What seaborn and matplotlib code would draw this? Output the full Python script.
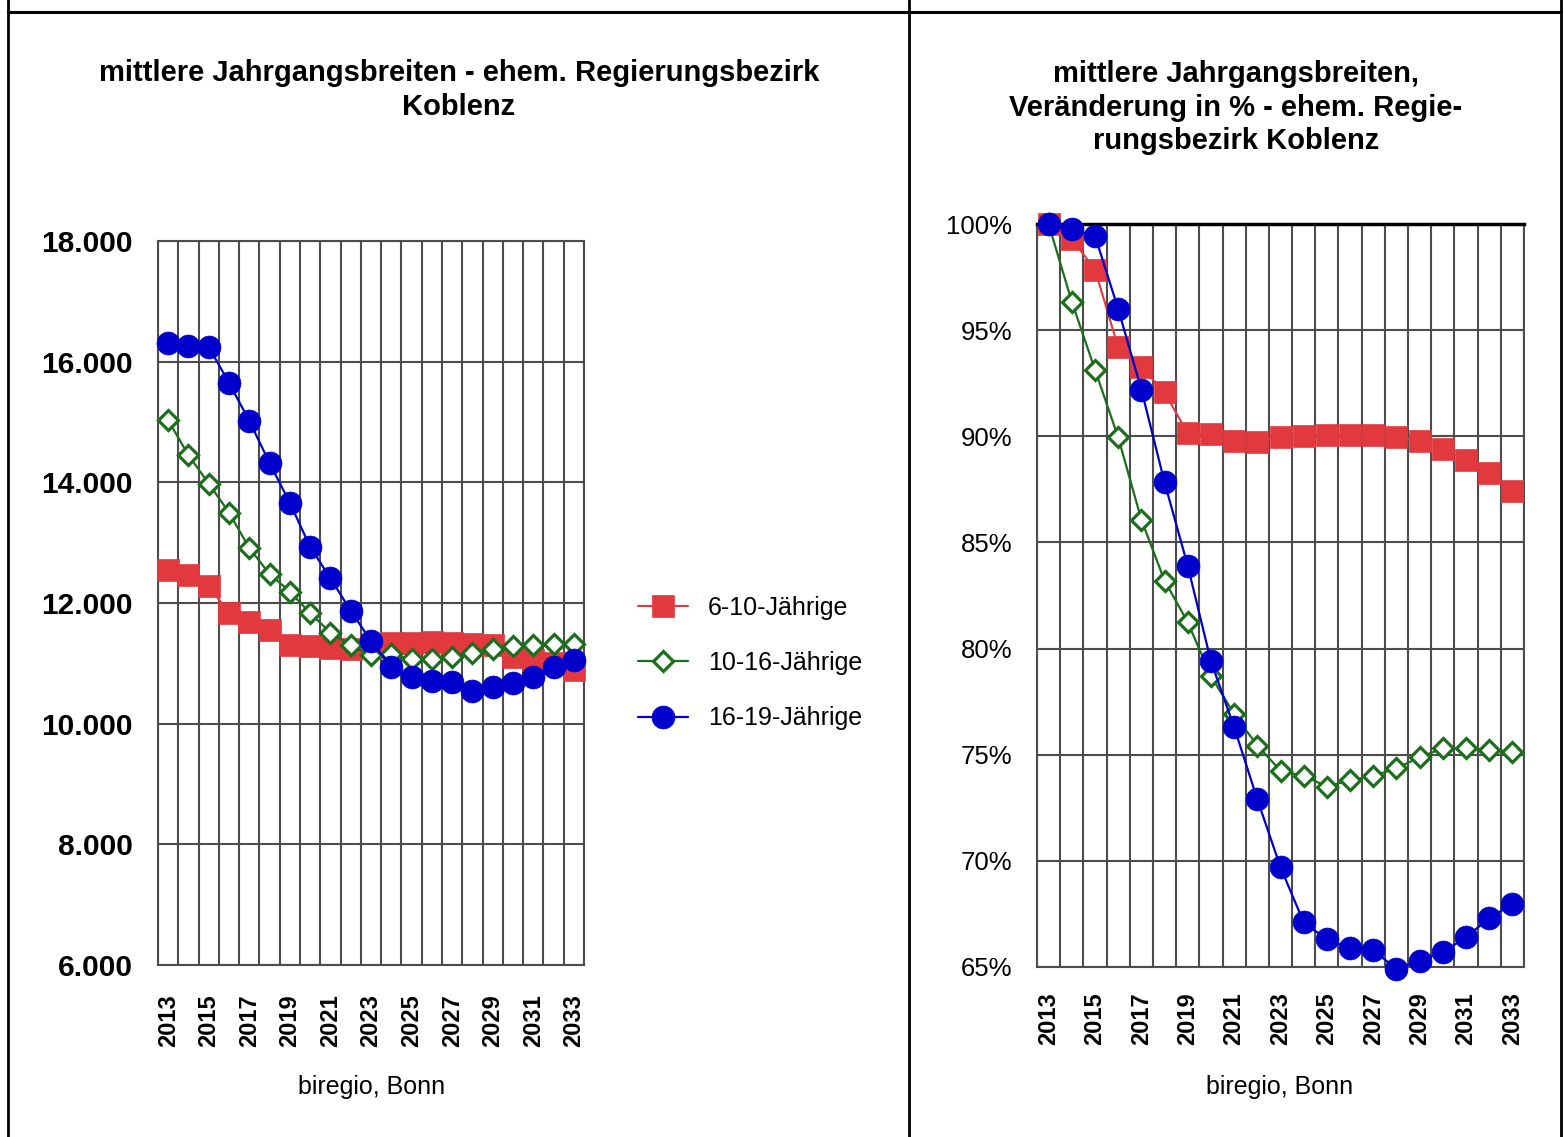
import matplotlib
matplotlib.use("Agg")
import matplotlib.pyplot as plt
from matplotlib.lines import Line2D
from matplotlib.ticker import FixedLocator
import seaborn as sns
import numpy as np

# ---------------- data ----------------
years = [2013, 2014, 2015, 2016, 2017, 2018, 2019, 2020, 2021, 2022, 2023,
         2024, 2025, 2026, 2027, 2028, 2029, 2030, 2031, 2032, 2033]
series_names = ["6-10-Jährige", "10-16-Jährige", "16-19-Jährige"]

# absolute values (left chart)
abs_6_10 = [12550, 12460, 12290, 11830, 11690, 11550, 11300, 11290, 11250, 11240, 11270,
            11330, 11340, 11360, 11340, 11320, 11300, 11110, 11060, 11000, 10890]
abs_10_16 = [15030, 14450, 13980, 13500, 12910, 12480, 12190, 11830, 11510, 11300, 11130,
             11150, 11070, 11070, 11100, 11170, 11230, 11280, 11300, 11320, 11320]
abs_16_19 = [16310, 16260, 16245, 15650, 15020, 14320, 13660, 12930, 12410, 11870, 11370,
             10940, 10770, 10710, 10690, 10540, 10610, 10670, 10770, 10940, 11060]

# change in % (right chart)
pct_6_10 = [100.0, 99.3, 97.85, 94.2, 93.25, 92.07, 90.14, 90.1, 89.8, 89.72, 89.98,
            90.03, 90.06, 90.06, 90.06, 89.95, 89.8, 89.4, 88.9, 88.27, 87.44]
pct_10_16 = [100.0, 96.34, 93.14, 89.95, 86.07, 83.2, 81.24, 78.7, 76.92, 75.43, 74.25,
             74.0, 73.5, 73.8, 74.0, 74.36, 74.88, 75.3, 75.3, 75.24, 75.14]
pct_16_19 = [100.0, 99.75, 99.45, 96.0, 92.2, 87.83, 83.9, 79.4, 76.3, 72.9, 69.7,
             67.1, 66.3, 65.9, 65.8, 64.9, 65.3, 65.7, 66.4, 67.3, 67.97]

left_yticks = [6000, 8000, 10000, 12000, 14000, 16000, 18000]
left_yticklabels = ["6.000", "8.000", "10.000", "12.000", "14.000", "16.000", "18.000"]
right_yticks = [65, 70, 75, 80, 85, 90, 95, 100]
right_yticklabels = ["65%", "70%", "75%", "80%", "85%", "90%", "95%", "100%"]

title_left = "mittlere Jahrgangsbreiten - ehem. Regierungsbezirk\nKoblenz"
title_right = "mittlere Jahrgangsbreiten,\nVeränderung in % - ehem. Regie-\nrungsbezirk Koblenz"
source_label = "biregio, Bonn"

# ---------------- style ----------------
sns.set_style("white")
plt.rcParams["font.family"] = ["Liberation Sans", "DejaVu Sans"]
plt.rcParams["text.color"] = "black"
plt.rcParams["xtick.color"] = "black"
plt.rcParams["ytick.color"] = "black"

RED = "#E2393F"
GREEN = "#1C6E1C"
BLUE = "#0000CC"
GRID = "#4D4D4D"

W, H = 1564, 1137
fig = plt.figure(figsize=(W / 100, H / 100), dpi=100)
fig.patch.set_facecolor("white")

ax1 = fig.add_axes([158 / W, 1 - 965 / H, 426 / W, 724 / H])
ax2 = fig.add_axes([1037 / W, 1 - 967 / H, 487 / W, 743 / H])

idx = list(range(len(years)))

styles = [
    dict(color=RED, marker="s", markersize=15.5, markerfacecolor=RED,
         markeredgecolor=RED, markeredgewidth=0.5, linewidth=1.5),
    dict(color=GREEN, marker="D", markersize=10.5, markerfacecolor="white",
         markeredgecolor=GREEN, markeredgewidth=2.3, linewidth=1.6),
    dict(color=BLUE, marker="o", markersize=16.5, markerfacecolor=BLUE,
         markeredgecolor=BLUE, markeredgewidth=0.5, linewidth=1.6),
]


def draw(ax, data_list):
    for z, (vals, name, st) in enumerate(zip(data_list, series_names, styles)):
        sns.lineplot(x=idx, y=vals, ax=ax, label=name, zorder=3 + z,
                     clip_on=False, **st)


draw(ax1, [abs_6_10, abs_10_16, abs_16_19])
draw(ax2, [pct_6_10, pct_10_16, pct_16_19])

major_idx = [i for i, y in enumerate(years) if y % 2 == 1]
boundaries = [i - 0.5 for i in idx] + [idx[-1] + 0.5]

for ax, yt, ytl, ylim, ylab_kw, xpad in [
    (ax1, left_yticks, left_yticklabels, (6000, 18000), dict(fontsize=21.5, fontweight="bold"), 21),
    (ax2, right_yticks, right_yticklabels, (65, 100), dict(fontsize=18.5), 18),
]:
    ax.set_xlim(-0.5, len(years) - 0.5)
    ax.set_ylim(*ylim)
    ax.set_yticks(yt)
    ax.set_yticklabels(ytl, color="black", **ylab_kw)
    ax.set_xticks(major_idx)
    ax.set_xticklabels([str(years[i]) for i in major_idx], rotation=90,
                       fontsize=17, fontweight="bold", color="black")
    ax.xaxis.set_minor_locator(FixedLocator(boundaries))
    ax.tick_params(axis="both", which="both", length=0)
    ax.tick_params(axis="y", pad=18)
    ax.tick_params(axis="x", pad=xpad)
    ax.grid(False)
    ax.grid(True, which="major", axis="y", color=GRID, linewidth=1.5)
    ax.grid(True, which="minor", axis="x", color=GRID, linewidth=1.5)
    ax.set_axisbelow(True)
    for sp in ax.spines.values():
        sp.set_visible(True)
        sp.set_color(GRID)
        sp.set_linewidth(1.5)
    ax.set_xlabel("")
    ax.set_ylabel("")
    if ax.get_legend() is not None:
        ax.get_legend().remove()

ax2.spines["top"].set_color("black")
ax2.spines["top"].set_linewidth(2.5)

# legend (left chart)
handles, labels = ax1.get_legend_handles_labels()
leg = fig.legend(handles, labels, loc="center left",
                 bbox_to_anchor=(638 / W, 1 - 663 / H), bbox_transform=fig.transFigure,
                 frameon=False, fontsize=18, handlelength=2.0, handletextpad=0.8,
                 labelspacing=1.25, borderpad=0, borderaxespad=0, numpoints=1)
for t in leg.get_texts():
    t.set_color("black")

# titles
fig.text(459 / W, 1 - 90 / H, title_left, ha="center", va="center",
         fontsize=21, fontweight="bold", linespacing=1.25, color="black")
fig.text(1236 / W, 1 - 107.5 / H, title_right, ha="center", va="center",
         fontsize=21, fontweight="bold", linespacing=1.25, color="black")

# source labels
fig.text(372 / W, 1 - 1087 / H, source_label, ha="center", va="center",
         fontsize=18, color="black")
fig.text(1280 / W, 1 - 1087 / H, source_label, ha="center", va="center",
         fontsize=18, color="black")

# page frame lines
fig.add_artist(Line2D([8 / W, 1561 / W], [1 - 12 / H, 1 - 12 / H],
                      transform=fig.transFigure, color="black", linewidth=2.2))
for xp in (8, 909, 1561):
    fig.add_artist(Line2D([xp / W, xp / W], [0, 1], transform=fig.transFigure,
                          color="black", linewidth=2.0))

fig.savefig("out.png", dpi=100, facecolor="white")
